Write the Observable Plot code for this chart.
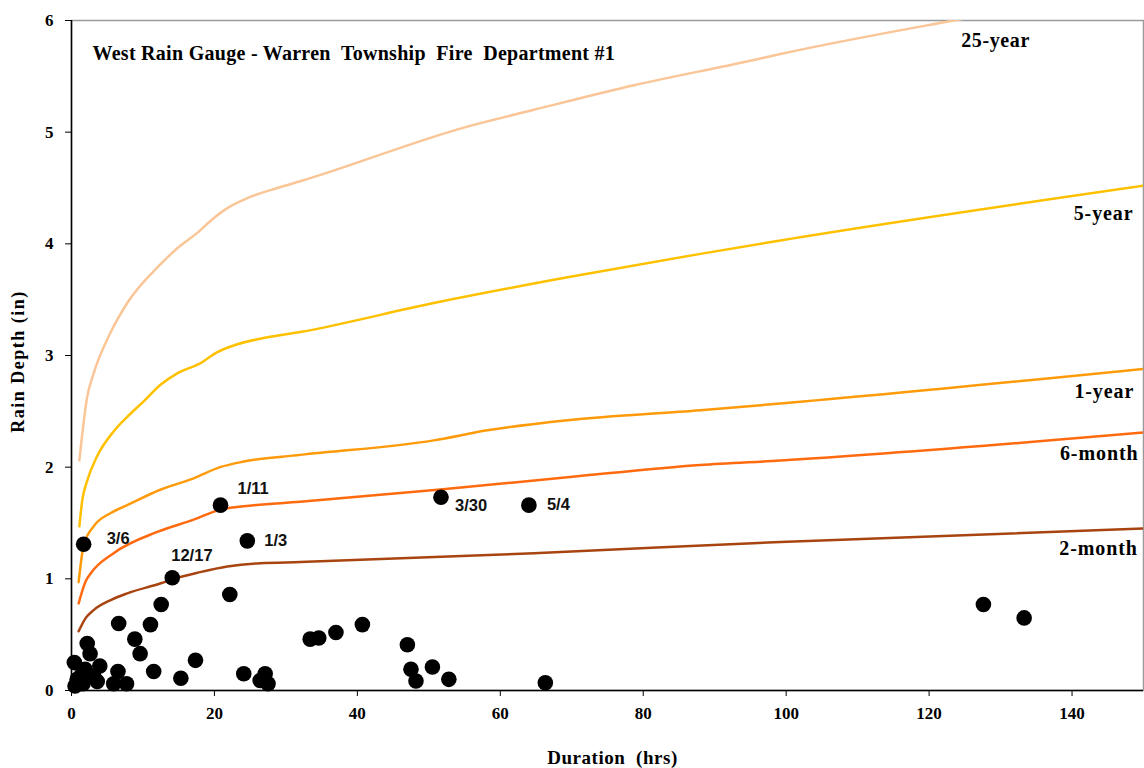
<!DOCTYPE html>
<html>
<head>
<meta charset="utf-8">
<script src="https://cdn.jsdelivr.net/npm/d3@7"></script>
<script src="https://cdn.jsdelivr.net/npm/@observablehq/plot@0.6"></script>
<style>
  html, body { margin: 0; padding: 0; background: #fff; }
  #chart svg { display: block; }
</style>
</head>
<body>
<div id="chart"></div>
<script>
// ---- Data ----
const chartTitle = "West Rain Gauge - Warren  Township  Fire  Department #1";
const xLabel = "Duration  (hrs)";
const yLabel = "Rain Depth (in)";
const xTicks = [0, 20, 40, 60, 80, 100, 120, 140];
const yTicks = [0, 1, 2, 3, 4, 5, 6];

// Design storm curves: [duration hrs, depth in]
const curve25yr = [[1.1,2.06],[2.2,2.63],[3.1,2.84],[5.5,3.21],[7.8,3.47],[12.5,3.82],[14.8,3.96],[18,4.12],[19,4.18],[21.8,4.32],[24.6,4.41],[28.8,4.50],[32,4.56],[55.4,5.05],[64.7,5.20],[78.7,5.42],[95,5.64],[99.2,5.70],[123.4,6.0],[150,6.3]];
const curve5yr = [[1.1,1.47],[1.5,1.70],[2.2,1.88],[3.6,2.10],[5.9,2.32],[7.8,2.45],[10.1,2.59],[12.5,2.74],[14.8,2.84],[18,2.93],[20.4,3.03],[22.7,3.09],[26.4,3.15],[32,3.21],[50.7,3.47],[69.4,3.70],[88,3.91],[99.2,4.03],[150,4.52]];
const curve1yr = [[1.0,0.97],[1.7,1.30],[3.1,1.47],[5.5,1.59],[7.8,1.66],[12.5,1.80],[17.1,1.90],[20.8,2.00],[24.1,2.05],[32,2.11],[50.7,2.24],[58.2,2.33],[69.4,2.42],[88,2.51],[99.2,2.57],[150,2.88]];
const curve6mo = [[1.0,0.78],[2.0,0.98],[2.7,1.05],[5.9,1.23],[12,1.42],[17.1,1.53],[20.8,1.62],[24.1,1.65],[32,1.69],[51.6,1.80],[69.4,1.91],[88,2.02],[99.2,2.06],[150,2.31]];
const curve2mo = [[1.0,0.53],[2.0,0.65],[3.1,0.72],[5.5,0.81],[7.8,0.87],[12.5,0.96],[14.3,1.00],[18,1.06],[21.8,1.11],[26.4,1.14],[32,1.15],[64.7,1.23],[99.2,1.33],[150,1.45]];

const curveNames = ["25-year", "5-year", "1-year", "6-month", "2-month"];
const curveColors = ["#FAC597", "#FFC000", "#FF9A0A", "#FF6A0F", "#A8440F"];
const curves = [curve25yr, curve5yr, curve1yr, curve6mo, curve2mo];
// label anchor (data units) for each curve name
const curveLabelX = [129.3, 148.6, 148.7, 149.3, 149.2];
const curveLabelY = [5.82, 4.27, 2.68, 2.12, 1.27];

// Observed storms: duration (hrs), depth (in)
const stormHrs = [1.7, 20.85, 24.6, 14.1, 51.7, 64.0,
  22.15, 12.55, 6.6, 11.05, 8.86, 9.6, 2.2, 2.6, 0.4, 3.96, 0.5, 0.8, 1.3, 1.9, 1.6, 3.1, 3.6,
  6.5, 5.9, 7.7, 11.5, 15.3, 17.35, 24.1, 27.1, 26.4, 27.5,
  33.4, 34.6, 37.0, 40.7, 47.0, 47.5, 48.2, 50.5, 52.8, 66.3, 127.6, 133.3];
const stormDepth = [1.31, 1.66, 1.34, 1.01, 1.73, 1.66,
  0.86, 0.77, 0.60, 0.59, 0.46, 0.33, 0.42, 0.33, 0.25, 0.22, 0.04, 0.10, 0.13, 0.19, 0.06, 0.13, 0.08,
  0.17, 0.06, 0.06, 0.17, 0.11, 0.27, 0.15, 0.15, 0.09, 0.06,
  0.46, 0.47, 0.52, 0.59, 0.41, 0.19, 0.085, 0.21, 0.10, 0.07, 0.77, 0.65];
const stormLabels = ["3/6", "1/11", "1/3", "12/17", "3/30", "5/4"];

// ---- Build tables ----
const curveRows = curves.flatMap((c, i) => c.map(([x, y]) => ({name: curveNames[i], x, y})));
const storms = stormHrs.map((x, i) => ({x, y: stormDepth[i], label: stormLabels[i] || ""}));
const labeled = storms.filter(d => d.label);
const curveLabelRows = curveNames.map((name, i) => ({name, x: curveLabelX[i], y: curveLabelY[i]}));

// label offsets (px) for the dated storms
const offsets = {"3/6": [23, -5], "1/11": [17, -16], "1/3": [17, 0], "12/17": [-1, -22], "3/30": [14, 8], "5/4": [18, 0]};

const serif = "'Liberation Serif', 'Times New Roman', serif";
const sans = "'Liberation Sans', Arial, sans-serif";

const plot = Plot.plot({
  width: 1144,
  height: 768,
  marginLeft: 71,
  marginRight: 1,
  marginTop: 20,
  marginBottom: 78,
  style: {fontFamily: serif, fontWeight: "bold", background: "#fff", color: "#000"},
  x: {domain: [0, 150]},
  y: {domain: [0, 6]},
  color: {domain: curveNames, range: curveColors},
  marks: [
    Plot.frame({stroke: "#9a9a9a", strokeWidth: 1.5}),
    Plot.line(curveRows, {x: "x", y: "y", z: "name", stroke: "name", strokeWidth: 2.5, curve: "monotone-x", clip: true}),
    Plot.dot(storms, {x: "x", y: "y", r: 7.8, fill: "#000", stroke: "none"}),
    ...labeled.map(d => Plot.text([d], {x: "x", y: "y", text: "label", textAnchor: "start",
      dx: offsets[d.label][0], dy: offsets[d.label][1], fontFamily: sans, fontWeight: "bold", fontSize: 16.5, fill: "#111"})),
    Plot.text(curveLabelRows.slice(0, 1), {x: "x", y: "y", text: "name", textAnchor: "middle",
      fontFamily: serif, fontWeight: "bold", fontSize: 20}),
    Plot.text(curveLabelRows.slice(1), {x: "x", y: "y", text: "name", textAnchor: "end",
      fontFamily: serif, fontWeight: "bold", fontSize: 20}),
    Plot.text([chartTitle], {frameAnchor: "top-left", dx: 21, dy: 33, textAnchor: "start", lineAnchor: "middle",
      fontFamily: serif, fontWeight: "bold", fontSize: 20}),
    Plot.axisX({ticks: xTicks, tickSize: 6, tickPadding: 10, fontSize: 17, label: null, tickFormat: d => String(d)}),
    Plot.axisY({ticks: yTicks, tickSize: 6, tickPadding: 12, fontSize: 17, label: null, tickFormat: d => String(d)}),
    Plot.ruleX([0], {stroke: "#000", strokeWidth: 1.5}),
    Plot.ruleY([0], {stroke: "#000", strokeWidth: 1.5}),
    Plot.text([xLabel], {frameAnchor: "bottom", dx: 5, dy: 67, textAnchor: "middle", lineAnchor: "middle",
      fontFamily: serif, fontWeight: "bold", fontSize: 19}),
    Plot.text([yLabel], {frameAnchor: "left", dx: -53, dy: 6, rotate: -90, textAnchor: "middle", lineAnchor: "middle",
      fontFamily: serif, fontWeight: "bold", fontSize: 18})
  ]
});
// letter spacing for the wide, Excel-like captions
const spacing = {[chartTitle]: "0.28px", [xLabel]: "0.55px", [yLabel]: "1.5px",
  "25-year": "0.6px", "5-year": "0.9px", "1-year": "0.9px", "6-month": "0.9px", "2-month": "0.9px"};
plot.querySelectorAll("text").forEach(t => {
  t.setAttribute("xml:space", "preserve");
  t.style.whiteSpace = "pre";
  const s = spacing[t.textContent];
  if (s) t.style.letterSpacing = s;
});
document.getElementById("chart").appendChild(plot);
</script>
</body>
</html>
